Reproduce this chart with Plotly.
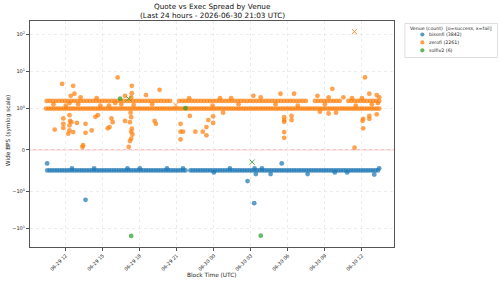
import numpy as np
import pandas as pd
import plotly.graph_objects as go

BASE_DAY = "2026-06-29"  # hours below are counted from 2026-06-29 00:00 UTC

# ---------------- bisonfi ----------------
bison_band_hours = [10.5, 10.7, 10.9, 11.1, 11.3, 11.5, 11.7, 11.9, 12.1, 12.3, 12.5, 12.7, 12.9, 13.1, 13.3,
                    13.5, 13.7, 13.9, 14.1, 14.3, 14.5, 14.7, 14.9, 15.1, 15.3, 15.5, 15.7, 15.9, 16.1, 16.3,
                    16.5, 16.7, 16.9, 17.1, 17.3, 17.5, 17.7, 17.9, 18.1, 18.3, 18.5, 18.7, 18.9, 19.1, 19.3,
                    19.5, 19.7, 19.9, 20.1, 20.3, 20.5, 20.7, 20.9, 21.1, 21.3, 21.5, 21.7,
                    22.1, 22.3, 22.5, 22.7, 22.9, 23.1, 23.3, 23.5, 23.7, 23.9, 24.1, 24.3, 24.5, 24.7, 24.9,
                    25.1, 25.3, 25.5, 25.7, 25.9, 26.1, 26.3, 26.5, 26.7, 26.9, 27.1, 27.3, 27.5, 27.7, 27.9,
                    28.1, 28.3, 28.5, 28.7, 28.9, 29.1, 29.3, 29.5, 29.7, 29.9, 30.1, 30.3, 30.5, 30.7, 30.9,
                    31.1, 31.3, 31.5, 31.7, 31.9, 32.1, 32.3, 32.5, 32.7, 32.9, 33.1, 33.3, 33.5, 33.7, 33.9,
                    34.1, 34.3, 34.5, 34.7, 34.9, 35.1, 35.3, 35.5, 35.7, 35.9, 36.1, 36.3, 36.5, 36.7, 36.9,
                    37.1, 37.3]
bison_band_bps = -0.5
bison_out_hours = [10.49, 13.6, 26.73, 27.27, 29.5, 12.5, 14.3, 17.0, 18.0, 20.2, 21.5, 24.0, 25.3,
                   27.3, 27.4, 27.9, 28.6, 31.6, 33.8, 34.8, 37.0, 37.4]
bison_out_bps = [-0.33, -1.73, -0.76, -2.13, -0.33, -0.45, -0.45, -0.45, -0.45, -0.45, -0.45, -0.55, -0.45,
                 -0.45, -0.59, -0.45, -0.59, -0.59, -0.55, -0.55, -0.6, -0.45]

# ---------------- zerofi ----------------
zero_band_hours = [10.4, 10.6, 10.8, 11.0, 11.2, 11.4, 11.6, 11.8, 12.0, 12.2, 12.4, 12.6, 12.8, 13.0, 13.2,
                   13.4, 13.6, 13.8, 14.0, 14.2, 14.4, 14.6, 14.8, 15.0, 15.2, 15.4, 15.6, 15.8, 16.0, 16.2,
                   16.4, 16.6, 16.8, 17.0, 17.2, 17.4, 17.6, 17.8, 18.0, 18.2, 18.4, 18.6, 18.8, 19.0, 19.2,
                   19.4, 19.6, 19.8, 20.0, 20.2, 20.4, 20.6, 20.8, 21.0, 21.2, 21.4, 21.6, 21.8, 22.0, 22.2,
                   22.4, 22.6, 22.8, 23.0, 23.2, 23.4, 23.6, 23.8, 24.0, 24.2, 24.4, 24.6, 24.8, 25.0, 25.2,
                   25.4, 25.6, 25.8, 26.0, 26.2, 26.4, 26.6, 26.8, 27.0, 27.2, 27.4, 27.6, 27.8, 28.0, 28.2,
                   28.4, 28.6, 28.8, 29.0, 29.2, 29.4, 29.6, 29.8, 30.0, 30.2, 30.4, 30.6, 30.8, 31.0, 31.2,
                   31.4, 31.6, 31.8, 32.0, 32.2, 32.4, 32.6, 32.8, 33.0, 33.2, 33.4, 33.6, 33.8, 34.0, 34.2,
                   34.4, 34.6, 34.8, 35.0, 35.2, 35.4, 35.6, 35.8, 36.0, 36.2, 36.4, 36.6, 36.8, 37.0, 37.2,
                   37.4]
zero_band_bps = 1.0
zero_upper_hours = [10.45, 10.7, 10.95, 11.2, 11.45, 11.7, 11.95, 12.2, 12.45, 12.7, 12.95, 13.2, 13.45, 13.7,
                    13.95, 14.2, 14.45, 14.7, 14.95, 15.2, 15.45, 15.7, 15.95, 16.2, 16.45, 16.7, 16.95, 17.2,
                    17.45, 17.7, 17.95, 18.2, 18.45, 18.7, 18.95, 19.2, 19.45, 19.7, 19.95, 20.2, 20.45,
                    21.2, 21.45, 21.7, 21.95, 22.2, 22.45, 22.7, 22.95, 23.2, 23.45, 23.7, 23.95, 24.2, 24.45,
                    24.7, 24.95, 25.2, 25.45, 25.7, 25.95, 26.2, 26.45, 26.7, 26.95, 27.2, 27.45, 27.7, 27.95,
                    28.2, 28.45, 28.7, 28.95, 29.2, 29.45, 29.7, 29.95, 30.2, 30.45, 30.7, 30.95, 31.2, 31.45,
                    32.2, 32.45, 32.7, 32.95, 33.2, 33.45, 33.7, 33.95, 34.2,
                    34.9, 35.15, 35.4, 35.65, 35.9, 36.15, 36.4, 36.65, 36.9, 37.15, 37.4]
zero_upper_bps = 1.6
zero_out_hours = [11.7, 12.6, 12.7, 12.4, 16.2, 17.35, 17.35, 17.3, 19.6, 18.5, 16.8, 27.8, 29.4, 30.5, 33.6,
                  36.25, 33.3, 34.5, 36.6, 37.2, 27.2, 13.2, 14.5, 22.0, 24.5, 25.4, 32.4, 35.2, 36.0, 37.4,
                  11.0, 12.0, 13.0, 14.8, 16.5, 17.5, 19.0, 23.9, 26.0, 29.0, 30.8, 33.0, 35.5, 36.8, 37.3,
                  15.5, 16.0, 12.3,
                  11.8, 11.8, 11.8, 11.1, 12.3, 12.35, 12.3, 12.3, 12.2, 12.6, 12.45, 12.9, 13.6, 14.1, 13.6,
                  13.4, 13.35, 14.6, 14.4, 15.8, 15.4, 15.55, 15.7,
                  17.25, 17.3, 17.2, 17.35, 17.3, 17.4, 17.3, 17.2, 17.1, 16.8, 19.2, 19.3, 21.3, 21.3, 21.5,
                  21.3, 22.05, 22.5, 23.1, 23.4, 23.4, 23.55,
                  23.94, 23.94, 24.75, 29.7, 29.7, 29.7, 29.7, 29.7, 30.3, 30.3,
                  35.4, 36.1, 36.1, 36.05, 36.6, 36.6, 37.2, 33.3, 32.6, 33.9]
zero_out_bps = [4.6, 4.1, 2.5, 2.2, 6.9, 4.1, 2.6, 2.0, 3.2, 2.3, 2.2, 2.0, 2.5, 2.5, 3.4,
                6.9, 2.0, 2.0, 2.5, 2.3, 2.2, 2.0, 1.9, 1.9, 1.9, 1.9, 2.2, 1.9, 1.9, 2.0,
                1.3, 1.2, 1.3, 1.2, 1.3, 1.25, 1.3, 1.2, 1.3, 1.3, 1.2, 1.3, 1.2, 1.3, 1.4,
                1.2, 1.4, 1.4,
                0.76, 0.63, 0.53, 0.49, 0.84, 0.70, 0.59, 0.47, 0.39, 0.43, 0.67, 0.65, 0.63, 0.47, 0.41,
                0.11, 0.07, 0.84, 0.80, 0.67, 0.52, 0.55, 0.76,
                0.90, 0.79, 0.67, 0.51, 0.44, 0.37, 0.27, 0.21, 0.07, 0.70, 0.70, 0.63, 0.63, 0.44, 0.44,
                0.25, 0.82, 0.44, 0.44, 0.55, 0.35, 0.72,
                0.81, 0.65, 0.90, 0.79, 0.72, 0.68, 0.43, 0.29, 0.82, 0.72,
                0.05, 0.75, 0.52, 0.70, 0.75, 0.82, 0.86, 0.88, 0.92, 0.90]
zero_fail_hours = [20.9, 35.4]
zero_fail_bps = [1.25, 118.0]

# ---------------- solfiv2 ----------------
solfi_ok_hours = [16.4, 21.7, 17.3, 27.8]
solfi_ok_bps = [1.84, 1.02, -16.2, -16.0]
solfi_fail_hours = [17.1, 27.1]
solfi_fail_bps = [1.84, -0.30]

venue_names = ["bisonfi (3842)", "zerofi (2261)", "solfiv2 (6)"]
venue_colors = ["#1f77b4", "#ff7f0e", "#2ca02c"]
legend_title = "Venue (count)  [o=success, x=fail]"
title_lines = ["Quote vs Exec Spread by Venue", "(Last 24 hours - 2026-06-30 21:03 UTC)"]

ytick_vals = [100, 10, 1, 0, -1, -10]
ytick_text = ["10<sup>2</sup>", "10<sup>1</sup>", "10<sup>0</sup>", "0", "\u221210<sup>0</sup>", "\u221210<sup>1</sup>"]
x_range_hours = [9.1, 38.6]
y_range_t = [-2.62, 3.47]

LINSCALE = 1.0 / (1.0 - 1.0 / 10.0)  # matplotlib symlog, linthresh=1


def symlog(v):
    v = np.asarray(v, dtype=float)
    a = np.abs(v)
    return np.where(a <= 1.0, v * LINSCALE, np.sign(v) * (LINSCALE + np.log10(np.maximum(a, 1.0))))


def to_time(hours):
    return pd.Timestamp(BASE_DAY) + pd.to_timedelta(np.asarray(hours, dtype=float), unit="h")


FONT = "DejaVu Sans"
TXT = "#262626"
fig = go.Figure()

# plot-area geometry in pixels (for converting legend / title pixel offsets to paper coords)
L, R, T, B = 28, 394, 21, 250
def px_x(p):
    return (p - L) / (R - L)
def px_y(p):
    return (B - p) / (B - T)


def add_pts(hours, bps, color, symbol, size=4.8):
    hours = list(hours)
    if np.isscalar(bps):
        bps = [bps] * len(hours)
    marker = dict(color=color, size=size, symbol=symbol, opacity=0.72)
    if symbol.startswith("x"):
        marker.update(line=dict(color=color, width=1.0), size=5.2, opacity=0.85)
    else:
        marker.update(line=dict(width=0))
    fig.add_trace(go.Scatter(x=to_time(hours), y=symlog(bps), mode="markers", marker=marker,
                             showlegend=False, hoverinfo="skip"))


add_pts(bison_band_hours, bison_band_bps, venue_colors[0], "circle")
add_pts(bison_out_hours, bison_out_bps, venue_colors[0], "circle")
add_pts(zero_band_hours, zero_band_bps, venue_colors[1], "circle")
add_pts(zero_upper_hours, zero_upper_bps, venue_colors[1], "circle")
add_pts(zero_out_hours, zero_out_bps, venue_colors[1], "circle")
add_pts(zero_fail_hours, zero_fail_bps, venue_colors[1], "x-thin")
add_pts(solfi_ok_hours, solfi_ok_bps, venue_colors[2], "circle")
add_pts(solfi_fail_hours, solfi_fail_bps, venue_colors[2], "x-thin")

# zero line
fig.add_shape(type="line", xref="paper", x0=0, x1=1, yref="y", y0=0, y1=0,
              line=dict(color="rgba(240,100,100,0.55)", width=1), layer="below")

# ---- legend (drawn by hand to get matplotlib's compact spacing) ----
fig.add_shape(type="rect", xref="paper", yref="paper", x0=px_x(405), x1=px_x(498), y0=px_y(58), y1=px_y(23.5),
              line=dict(color="#d0d0d0", width=0.7), fillcolor="white", layer="above")
fig.add_annotation(text=legend_title, xref="paper", yref="paper", x=px_x(451.5), y=px_y(28.2),
                   xanchor="center", yanchor="middle", showarrow=False,
                   font=dict(family=FONT, size=4.7, color=TXT))
for i, (nm, col) in enumerate(zip(venue_names, venue_colors)):
    yy = px_y(34.7 + 8 * i)
    fig.add_shape(type="circle", xref="paper", yref="paper", xsizemode="pixel", ysizemode="pixel",
                  xanchor=px_x(422.5), yanchor=yy, x0=-2.1, x1=2.1, y0=-2.1, y1=2.1,
                  fillcolor=col, opacity=0.75, line=dict(width=0), layer="above")
    fig.add_annotation(text=nm, xref="paper", yref="paper", x=px_x(427.3), y=yy,
                       xanchor="left", yanchor="middle", showarrow=False,
                       font=dict(family=FONT, size=4.7, color=TXT))

# ---- title ----
for line, py in zip(title_lines, [6.7, 15.4]):
    fig.add_annotation(text=line, xref="paper", yref="paper", x=0.5, y=px_y(py),
                       xanchor="center", yanchor="middle", showarrow=False,
                       font=dict(family=FONT, size=7.3, color="#111"))

fig.update_layout(
    width=500, height=284,
    margin=dict(l=L, r=500 - R, t=T, b=284 - B),
    paper_bgcolor="white", plot_bgcolor="white",
    font=dict(family=FONT, size=5, color=TXT),
    showlegend=False,
)

fig.update_xaxes(
    type="date", range=[to_time([x_range_hours[0]])[0], to_time([x_range_hours[1]])[0]],
    tick0=pd.Timestamp(BASE_DAY), dtick=3 * 3600 * 1000, tickformat="%m-%d %H", tickangle=-45,
    showgrid=True, gridcolor="#ececec", griddash="dot", gridwidth=0.6,
    showline=True, linecolor="#555", linewidth=0.9, mirror=True,
    ticks="outside", ticklen=3, tickcolor="#555", tickwidth=0.7,
    tickfont=dict(family=FONT, size=4.8, color=TXT), zeroline=False,
)
fig.update_yaxes(
    range=y_range_t, tickmode="array", tickvals=list(symlog(ytick_vals)), ticktext=ytick_text,
    showgrid=True, gridcolor="#ececec", griddash="dot", gridwidth=0.6,
    showline=True, linecolor="#555", linewidth=0.9, mirror=True,
    ticks="outside", ticklen=3, tickcolor="#555", tickwidth=0.7,
    tickfont=dict(family=FONT, size=5, color=TXT), zeroline=False,
)

fig.add_annotation(text="Block Time (UTC)", xref="paper", yref="paper", x=0.5, y=px_y(278.5),
                   yanchor="middle", showarrow=False, font=dict(family=FONT, size=5.8, color=TXT))
fig.add_annotation(text="Wide BPS (symlog scale)", xref="paper", yref="paper", x=px_x(6.5), y=px_y(132),
                   textangle=-90, xanchor="center", yanchor="middle", showarrow=False,
                   font=dict(family=FONT, size=5.8, color=TXT))

fig.write_html("out.html")
